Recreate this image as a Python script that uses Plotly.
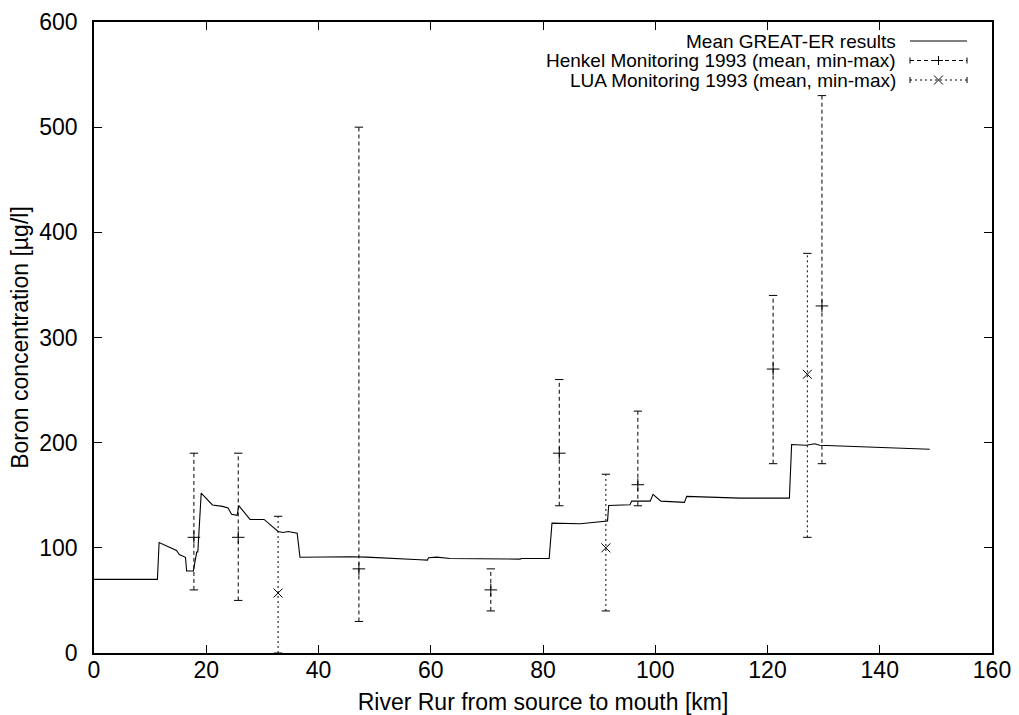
import plotly.graph_objects as go

# ---------------- data ----------------
model_km = [0, 11.3, 11.6, 13.1, 14.7, 15.2, 16.3, 16.5, 17.7, 18.3, 18.5, 19.1, 20.1, 21.1,
            22.9, 23.9, 24.5, 25.5, 25.8, 27.8, 30.3, 32.8, 33.7, 34.6, 36.2, 36.7, 45.6,
            48.6, 58.1, 59.4, 59.6, 61.1, 63.4, 70.0, 75.9, 76.2, 81.1, 81.6, 86.6, 91.5,
            91.7, 95.5, 95.8, 99.1, 99.6, 101.0, 105.2, 105.6, 111.6, 115.1, 123.9, 124.3,
            126.9, 128.4, 129.3, 148.9]
model_boron = [70, 70, 105, 101, 97.5, 93.6, 91, 78, 78, 96, 96, 152, 146.6, 140.8,
               139.4, 137.8, 131.9, 130.9, 140.1, 127, 127, 115.5, 114.6, 115.5, 113.9, 91, 91.5,
               91.2, 88.6, 88.3, 90.5, 91.2, 89.9, 89.3, 89.3, 89.9, 89.9, 123.5, 122.9, 125.4,
               140.3, 141, 144.4, 144.4, 150.8, 144.4, 143.2, 148.9, 148.3, 147.3, 147.3, 198.2,
               197.5, 198.9, 197.5, 193.8]

henkel_km = [17.8, 25.7, 47.2, 70.7, 82.9, 96.9, 121.0, 129.7]
henkel_mean = [110, 110, 80, 60, 190, 160, 270, 330]
henkel_min = [60, 50, 30, 40, 140, 140, 180, 180]
henkel_max = [190, 190, 500, 80, 260, 230, 340, 530]

lua_km = [32.8, 91.2, 127.1]
lua_mean = [57, 100, 265]
lua_min = [0, 40, 110]
lua_max = [130, 170, 380]

x_ticks = [0, 20, 40, 60, 80, 100, 120, 140, 160]
y_ticks = [0, 100, 200, 300, 400, 500, 600]

legend_labels = ["Mean GREAT-ER results",
                 "Henkel Monitoring 1993 (mean, min-max)",
                 "LUA Monitoring 1993 (mean, min-max)"]

FONT = "Liberation Sans, Arial, Helvetica, sans-serif"

fig = go.Figure()

# model line
fig.add_trace(go.Scatter(x=model_km, y=model_boron, mode="lines",
                         line=dict(color="black", width=1.1), showlegend=False,
                         hoverinfo="skip"))


def add_bars(xs, means, mins, maxs, dash, symbol):
    bx, by = [], []
    for x, lo, hi in zip(xs, mins, maxs):
        bx += [x, x, None]
        by += [lo, hi, None]
    fig.add_trace(go.Scatter(x=bx, y=by, mode="lines",
                             line=dict(color="black", width=1, dash=dash),
                             showlegend=False, hoverinfo="skip"))
    fig.add_trace(go.Scatter(x=list(xs) + list(xs), y=list(mins) + list(maxs), mode="markers",
                             marker=dict(symbol="line-ew-open", size=6, color="black",
                                         line=dict(color="black", width=1)),
                             showlegend=False, hoverinfo="skip"))
    fig.add_trace(go.Scatter(x=xs, y=means, mode="markers",
                             marker=dict(symbol=symbol, size=9, color="black",
                                         line=dict(color="black", width=1)),
                             showlegend=False, hoverinfo="skip"))


add_bars(henkel_km, henkel_mean, henkel_min, henkel_max, "4px,3px", "cross-thin-open")
add_bars(lua_km, lua_mean, lua_min, lua_max, "2px,3px", "x-thin-open")

# ---------------- manual legend (gnuplot style: text then sample) ----------------
L, R, T, B = 94, 992, 22, 653
W, H = R - L, B - T


def px(x):
    return (x - L) / W


def py(y):
    return (B - y) / H


rows_y = [41, 60.5, 80]
text_right = 898
s0, s1 = 910, 967
mid = (s0 + s1) / 2
shapes = []
annotations = []
for lab, yy in zip(legend_labels, rows_y):
    annotations.append(dict(x=px(text_right), y=py(yy), xref="paper", yref="paper",
                            text=lab, showarrow=False, xanchor="right", yanchor="middle",
                            font=dict(family=FONT, size=19, color="black")))

line_style = dict(color="black", width=1)
# solid
shapes.append(dict(type="line", xref="paper", yref="paper", x0=px(s0), x1=px(s1),
                   y0=py(rows_y[0]), y1=py(rows_y[0]), line=line_style))
for yy, dash, kind in [(rows_y[1], "4px,3px", "plus"), (rows_y[2], "2px,3px", "x")]:
    shapes.append(dict(type="line", xref="paper", yref="paper", x0=px(s0), x1=px(s1),
                       y0=py(yy), y1=py(yy), line=dict(color="black", width=1, dash=dash)))
    for xe in (s0, s1):
        shapes.append(dict(type="line", xref="paper", yref="paper", x0=px(xe), x1=px(xe),
                           y0=py(yy - 3), y1=py(yy + 3), line=line_style))
    if kind == "plus":
        shapes.append(dict(type="line", xref="paper", yref="paper", x0=px(mid - 4.5), x1=px(mid + 4.5),
                           y0=py(yy), y1=py(yy), line=line_style))
        shapes.append(dict(type="line", xref="paper", yref="paper", x0=px(mid), x1=px(mid),
                           y0=py(yy - 4.5), y1=py(yy + 4.5), line=line_style))
    else:
        shapes.append(dict(type="line", xref="paper", yref="paper", x0=px(mid - 4.5), x1=px(mid + 4.5),
                           y0=py(yy - 4.5), y1=py(yy + 4.5), line=line_style))
        shapes.append(dict(type="line", xref="paper", yref="paper", x0=px(mid - 4.5), x1=px(mid + 4.5),
                           y0=py(yy + 4.5), y1=py(yy - 4.5), line=line_style))

axis_common = dict(showgrid=False, zeroline=False, showline=True, linecolor="black",
                   linewidth=1.5, mirror="allticks", ticks="inside", ticklen=8,
                   tickwidth=1, tickcolor="black",
                   tickfont=dict(family=FONT, size=23, color="black"))

fig.update_layout(
    width=1019, height=715,
    margin=dict(l=L, r=1019 - R, t=T, b=715 - B, autoexpand=False),
    paper_bgcolor="white", plot_bgcolor="white",
    showlegend=False,
    shapes=shapes, annotations=annotations,
    xaxis=dict(range=[0, 160], tickvals=x_ticks, ticktext=[str(v) for v in x_ticks],
               title=dict(text="River Rur from source to mouth [km]", standoff=12,
                          font=dict(family=FONT, size=23, color="black")),
               automargin=False, ticklabelstandoff=-4, **axis_common),
    yaxis=dict(range=[0, 600], tickvals=y_ticks, ticktext=[str(v) for v in y_ticks],
               title=dict(text="Boron concentration [µg/l]", standoff=4,
                          font=dict(family=FONT, size=23, color="black")),
               automargin=False, ticklabelstandoff=10, **axis_common),
)

fig.write_html("out.html")
